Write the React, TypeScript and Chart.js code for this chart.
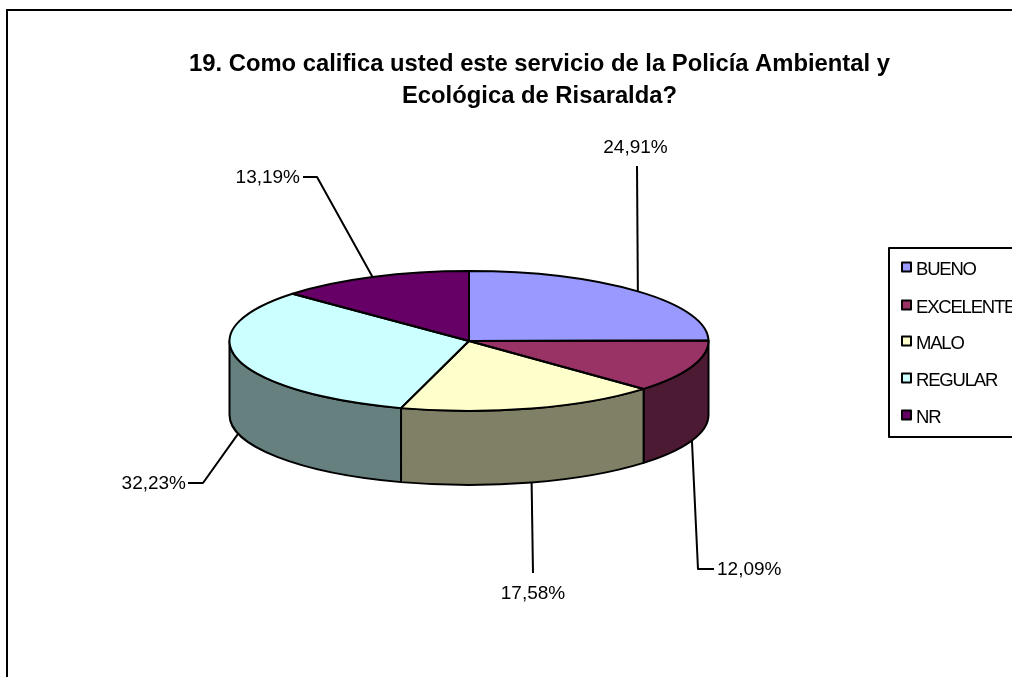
import React, { useEffect, useRef } from "react";
import { Chart, registerables } from "chart.js";

Chart.register(...registerables);

const categories = ["BUENO", "EXCELENTE", "MALO", "REGULAR", "NR"];
const shares = [24.91, 12.09, 17.58, 32.23, 13.19];
const topColors = ["#9999FF", "#993366", "#FFFFCC", "#CCFFFF", "#660066"];
const sideColors = ["#4D4D80", "#4D1A33", "#808066", "#668080", "#330033"];
const titleLines = [
  "19. Como califica usted este servicio de la Policía Ambiental y",
  "Ecológica de Risaralda?",
];

// Layout of the annotations, separate from the data.
const RADIUS_X = 239.5;
const RADIUS_Y = 70;
const DEPTH = 74;
const FONT_FAMILY = '"Liberation Sans", Arial, sans-serif';
const labelLayout = [
  { via: [[637, 166]], text: [635.5, 147], align: "center" },
  { via: [[698, 569], [714, 569]], text: [717, 569], align: "left" },
  { via: [[533, 573]], text: [533, 593], align: "center" },
  { via: [[203, 483], [188, 483]], text: [186, 483], align: "right" },
  { via: [[317, 177], [303, 177]], text: [300, 177], align: "right" },
];
const legendBox = { left: 889, top: 248, right: 1030, bottom: 437 };
const legendRows = [267, 305, 341, 378, 415];

const pie3d = {
  id: "pie3d",
  beforeDraw(chart: any) {
    const { ctx, width, height } = chart;
    ctx.save();
    ctx.fillStyle = "#fff";
    ctx.fillRect(0, 0, width, height);
    ctx.strokeStyle = "#000";
    ctx.lineWidth = 2;
    ctx.strokeRect(7, 10, width + 50, height + 50);
    ctx.restore();
  },
  afterLayout(chart: any) {
    // The title is centred on the space left of the plot's own centre offset.
    chart.titleBlock.left = 68;
    chart.titleBlock.right = 1011;
  },
  beforeDatasetsDraw(chart: any) {
    const { ctx } = chart;
    const arcs = chart.getDatasetMeta(0).data;
    const { x: cx, y: cy } = arcs[0];
    ctx.save();
    ctx.strokeStyle = "#000";
    ctx.lineWidth = 2;
    ctx.lineJoin = "round";
    arcs.forEach((arc: any, i: number) => {
      // Only the part of a slice in the front half shows a wall.
      const from = Math.max(arc.startAngle, 0);
      const to = Math.min(arc.endAngle, Math.PI);
      if (to <= from) return;
      ctx.beginPath();
      ctx.ellipse(cx, cy, RADIUS_X, RADIUS_Y, 0, from, to, false);
      ctx.lineTo(cx + RADIUS_X * Math.cos(to), cy + RADIUS_Y * Math.sin(to) + DEPTH);
      ctx.ellipse(cx, cy + DEPTH, RADIUS_X, RADIUS_Y, 0, to, from, true);
      ctx.closePath();
      ctx.fillStyle = sideColors[i];
      ctx.fill();
      ctx.stroke();
    });
    ctx.restore();

    // Squash the library's circular arcs into the tilted disc.
    ctx.save();
    ctx.translate(cx, cy);
    ctx.scale(1, RADIUS_Y / RADIUS_X);
    ctx.translate(-cx, -cy);
  },
  afterDatasetsDraw(chart: any) {
    const { ctx } = chart;
    ctx.restore();
    const arcs = chart.getDatasetMeta(0).data;
    const { x: cx, y: cy } = arcs[0];
    ctx.save();
    ctx.strokeStyle = "#000";
    ctx.lineWidth = 2;
    ctx.lineJoin = "round";
    arcs.forEach((arc: any) => {
      ctx.beginPath();
      ctx.moveTo(cx, cy);
      ctx.ellipse(cx, cy, RADIUS_X, RADIUS_Y, 0, arc.startAngle, arc.endAngle, false);
      ctx.closePath();
      ctx.stroke();
    });

    // Leader lines and value labels.
    ctx.fillStyle = "#000";
    ctx.font = `19px ${FONT_FAMILY}`;
    ctx.textBaseline = "middle";
    arcs.forEach((arc: any, i: number) => {
      const mid = (arc.startAngle + arc.endAngle) / 2;
      const sin = Math.sin(mid);
      const ax = cx + RADIUS_X * Math.cos(mid);
      const ay = cy + RADIUS_Y * sin + (sin > 0 ? DEPTH : 0);
      const layout = labelLayout[i];
      ctx.beginPath();
      ctx.moveTo(ax, ay);
      layout.via.forEach(([x, y]) => ctx.lineTo(x, y));
      ctx.stroke();
      ctx.textAlign = layout.align;
      ctx.fillText(`${shares[i].toFixed(2).replace(".", ",")}%`, layout.text[0], layout.text[1] + 1);
    });

    // Legend box, cut off by the edge of the picture as in the source.
    ctx.lineWidth = 2;
    ctx.strokeRect(legendBox.left, legendBox.top, legendBox.right - legendBox.left, legendBox.bottom - legendBox.top);
    ctx.textAlign = "left";
    ctx.font = `18.5px ${FONT_FAMILY}`;
    (ctx as any).letterSpacing = "-1.2px";
    categories.forEach((name, i) => {
      const y = legendRows[i];
      ctx.fillStyle = topColors[i];
      ctx.fillRect(902, y - 4.5, 9, 9);
      ctx.strokeRect(902, y - 4.5, 9, 9);
      ctx.fillStyle = "#000";
      ctx.fillText(name, 916, y + 3);
    });
    ctx.restore();
  },
};

export default function App() {
  const ref = useRef<HTMLCanvasElement>(null);
  useEffect(() => {
    const chart = new Chart(ref.current!, {
      type: "pie",
      data: {
        labels: categories,
        datasets: [
          {
            data: shares,
            backgroundColor: topColors,
            borderWidth: 0,
            radius: RADIUS_X,
            clip: false,
          } as any,
        ],
      },
      options: {
        responsive: false,
        animation: false,
        layout: { padding: { top: 0, left: 0, right: 74, bottom: 107 } },
        plugins: {
          legend: { display: false },
          tooltip: { enabled: false },
          title: {
            display: true,
            text: titleLines,
            color: "#000",
            font: { family: FONT_FAMILY, size: 23.8, weight: "bold", lineHeight: 32 / 23.8 },
            padding: { top: 48, bottom: 0 },
          },
        },
      },
      plugins: [pie3d],
    });
    return () => chart.destroy();
  }, []);
  return (
    <canvas
      ref={ref}
      width={1012}
      height={677}
      style={{ position: "absolute", left: 0, top: 0, display: "block" }}
    />
  );
}
